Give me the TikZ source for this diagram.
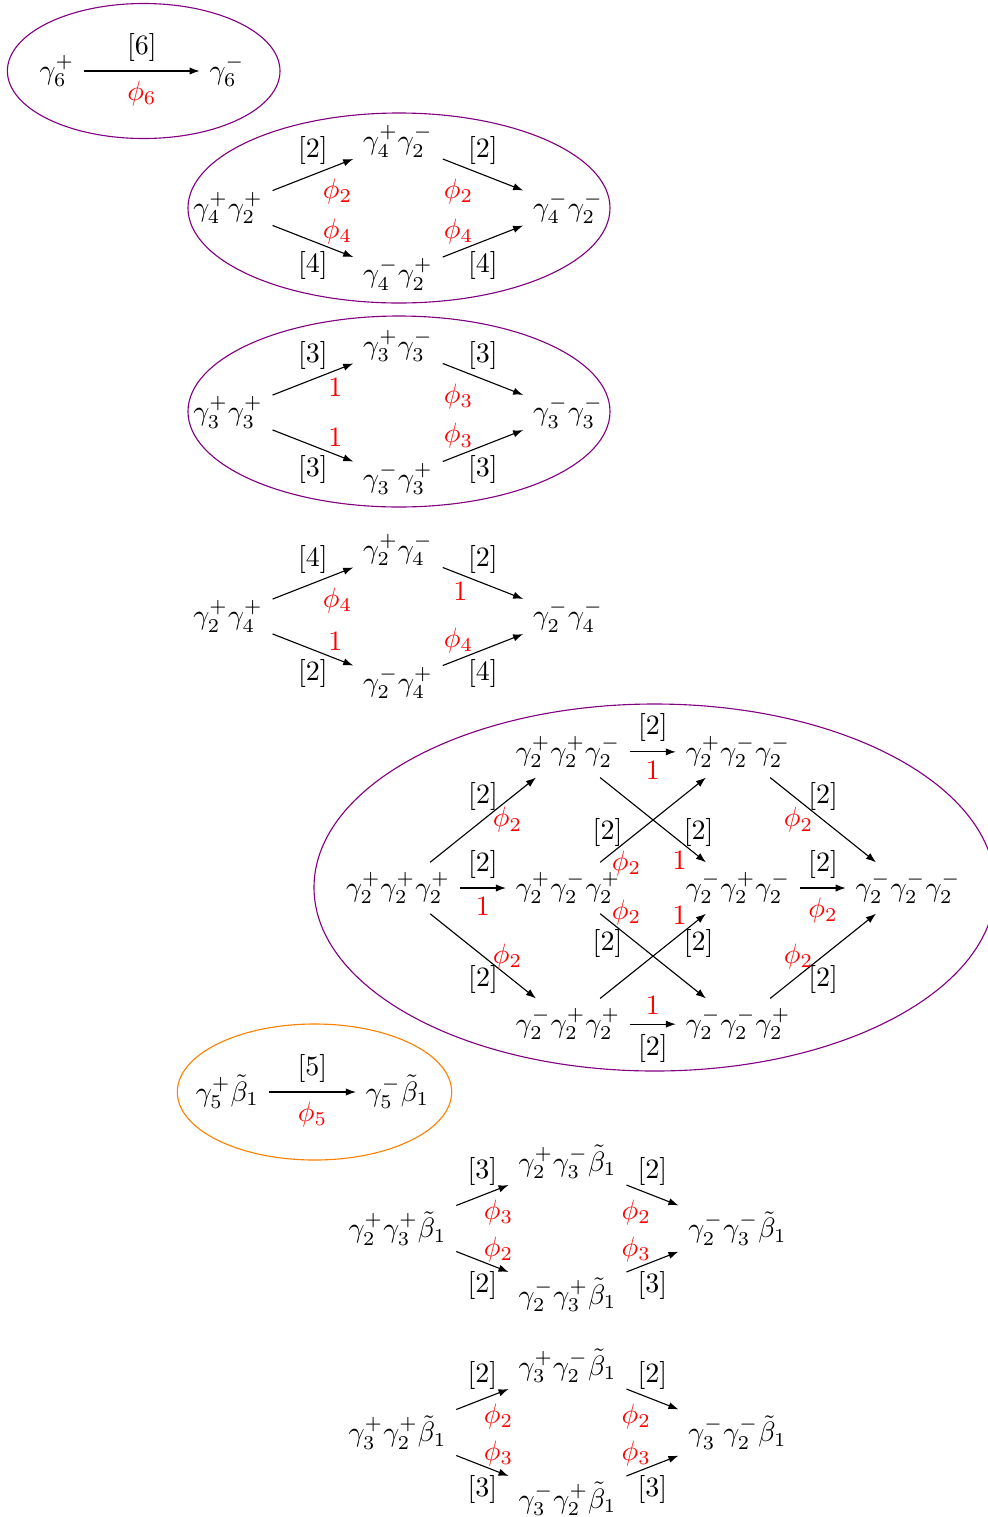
\documentclass[tikz,border=0pt]{standalone}
\usepackage{amsmath, amssymb}
\usetikzlibrary{arrows.meta, positioning}
\definecolor{lila}{HTML}{800080}
\definecolor{naranja}{HTML}{FF8000}

\begin{document}
\begin{tikzpicture}[x=0.357pt, y=-0.357pt,
      node distance=23.75pt and 60.7pt, on grid,
      arrow/.style={-{Latex[length=3.6pt, width=2.6pt]}},
      rd/.style={text=red},
      grupo/.style={draw=lila} ]
    \useasboundingbox (0,0) rectangle (987,1517);

    % gamma_6
    \node (g6p) at (57,71) {$\gamma_6^+$};
    \node[right=of g6p] (g6m) {$\gamma_6^-$};
    \draw[arrow] (g6p) -- node[above] {[6]} node[below, rd] {$\phi_6$} (g6m);
    \draw[grupo] (143.7,71) ellipse [x radius=136.3, y radius=67.5];

    % gamma_4 gamma_2
    \node (pp42) at (228,208) {$\gamma_4^+\gamma_2^+$};
    \node[above right=of pp42] (pm42) {$\gamma_4^+\gamma_2^-$};
    \node[below right=of pp42] (mp42) {$\gamma_4^-\gamma_2^+$};
    \node[below right=of pm42] (mm42) {$\gamma_4^-\gamma_2^-$};
    \draw[arrow] (pp42) -- node[above] {[2]} node[right, rd, yshift=-6pt] {$\phi_2$} (pm42);
    \draw[arrow] (pm42) -- node[above] {[2]} node[left, rd, yshift=-6pt] {$\phi_2$} (mm42);
    \draw[arrow] (pp42) -- node[right, rd, yshift=3.5pt] {$\phi_4$} node[below] {[4]} (mp42);
    \draw[arrow] (mp42) -- node[left, rd, yshift=3.5pt] {$\phi_4$} node[below] {[4]} (mm42);
    \draw[grupo] (399,208) ellipse [x radius=211, y radius=95];

    % gamma_3 gamma_3
    \node (pp33) at (228,412.5) {$\gamma_3^+\gamma_3^+$};
    \node[above right=of pp33] (pm33) {$\gamma_3^+\gamma_3^-$};
    \node[below right=of pp33] (mp33) {$\gamma_3^-\gamma_3^+$};
    \node[below right=of pm33] (mm33) {$\gamma_3^-\gamma_3^-$};
    \draw[arrow] (pp33) -- node[above] {[3]} node[right=2pt, rd, yshift=-3pt] {$1$} (pm33);
    \draw[arrow] (pm33) -- node[above] {[3]} node[left, rd, yshift=-6pt] {$\phi_3$} (mm33);
    \draw[arrow] (pp33) -- node[right=2pt, rd, yshift=3pt] {$1$} node[below] {[3]} (mp33);
    \draw[arrow] (mp33) -- node[left, rd, yshift=3.5pt] {$\phi_3$} node[below] {[3]} (mm33);
    \draw[grupo] (399,411.5) ellipse [x radius=211, y radius=95.5];

    % gamma_2 gamma_4
    \node (pp24) at (228,616.5) {$\gamma_2^+\gamma_4^+$};
    \node[above right=of pp24] (pm24) {$\gamma_2^+\gamma_4^-$};
    \node[below right=of pp24] (mp24) {$\gamma_2^-\gamma_4^+$};
    \node[below right=of pm24] (mm24) {$\gamma_2^-\gamma_4^-$};
    \draw[arrow] (pp24) -- node[above] {[4]} node[right, rd, yshift=-6pt] {$\phi_4$} (pm24);
    \draw[arrow] (pm24) -- node[above] {[2]} node[left=2pt, rd, yshift=-3pt] {$1$} (mm24);
    \draw[arrow] (pp24) -- node[right=2pt, rd, yshift=3pt] {$1$} node[below] {[2]} (mp24);
    \draw[arrow] (mp24) -- node[left, rd, yshift=3.5pt] {$\phi_4$} node[below] {[4]} (mm24);

    % gamma_2 gamma_2 gamma_2
    \node (ppp) at (398,888) {$\gamma_2^+\gamma_2^+\gamma_2^+$};
    \node[above right=48.6pt and 60.7pt of ppp] (ppm) {$\gamma_2^+\gamma_2^+\gamma_2^-$};
    \node[right=of ppp] (pmp) {$\gamma_2^+\gamma_2^-\gamma_2^+$};
    \node[below right=48.6pt and 60.7pt of ppp] (mpp) {$\gamma_2^-\gamma_2^+\gamma_2^+$};
    \node[right=of ppm] (pmm) {$\gamma_2^+\gamma_2^-\gamma_2^-$};
    \node[right=of pmp] (mpm) {$\gamma_2^-\gamma_2^+\gamma_2^-$};
    \node[right=of mpp] (mmp) {$\gamma_2^-\gamma_2^-\gamma_2^+$};
    \node[right=of mpm] (mmm) {$\gamma_2^-\gamma_2^-\gamma_2^-$};
    \draw[arrow] (ppp) -- node[above] {[2]} node[right, rd] {$\phi_2$} (ppm);
    \draw[arrow] (ppp) -- node[above] {[2]} node[below, rd] {$1$} (pmp);
    \draw[arrow] (ppp) -- node[right, rd] {$\phi_2$} node[below] {[2]} (mpp);
    \draw[arrow] (ppm) -- node[above] {[2]} node[below, rd] {$1$} (pmm);
    \draw[arrow] (ppm) -- node[pos=.75, right, xshift=-2pt, yshift=3pt] {[2]} node[pos=.75, below, rd] {$1$} (mpm);
    \draw[arrow] (pmp) -- node[pos=.25, left, xshift=2pt, yshift=3pt] {[2]} node[pos=.25, below, rd] {$\phi_2$} (pmm);
    \draw[arrow] (pmp) -- node[pos=.25, above, rd] {$\phi_2$} node[pos=.25, left, xshift=2pt, yshift=-3pt] {[2]} (mmp);
    \draw[arrow] (mpp) -- node[pos=.75, above, rd] {$1$} node[pos=.75, right, xshift=-2pt, yshift=-3pt] {[2]} (mpm);
    \draw[arrow] (mpp) -- node[above, rd] {$1$} node[below] {[2]} (mmp);
    \draw[arrow] (pmm) -- node[above] {[2]} node[left, rd] {$\phi_2$} (mmm);
    \draw[arrow] (mpm) -- node[above] {[2]} node[below, rd] {$\phi_2$} (mmm);
    \draw[arrow] (mmp) -- node[left, rd] {$\phi_2$} node[below] {[2]} (mmm);
    \draw[grupo] (654.7,887.5) ellipse [x radius=340.7, y radius=183.5];

    % gamma_5 beta_1
    \node (p5b) at (227.5,1092) {$\gamma_5^+\tilde{\beta}_1$};
    \node[right=of p5b] (m5b) {$\gamma_5^-\tilde{\beta}_1$};
    \draw[arrow] (p5b) -- node[above] {[5]} node[below, rd] {$\phi_5$} (m5b);
    \draw[draw=naranja] (314.5,1092) ellipse [x radius=137.2, y radius=68];

    % gamma_2 gamma_3 beta_1
    \node (pp23) at (397.5,1228.5) {$\gamma_2^+\gamma_3^+\tilde{\beta}_1$};
    \node[above right=of pp23] (pm23) {$\gamma_2^+\gamma_3^-\tilde{\beta}_1$};
    \node[below right=of pp23] (mp23) {$\gamma_2^-\gamma_3^+\tilde{\beta}_1$};
    \node[below right=of pm23] (mm23) {$\gamma_2^-\gamma_3^-\tilde{\beta}_1$};
    \draw[arrow] (pp23) -- node[above] {[3]} node[right=-3pt, rd, yshift=-6pt] {$\phi_3$} (pm23);
    \draw[arrow] (pm23) -- node[above] {[2]} node[left=-3pt, rd, yshift=-6pt] {$\phi_2$} (mm23);
    \draw[arrow] (pp23) -- node[right=-3pt, rd, yshift=4.5pt] {$\phi_2$} node[below] {[2]} (mp23);
    \draw[arrow] (mp23) -- node[left=-3pt, rd, yshift=4.5pt] {$\phi_3$} node[below] {[3]} (mm23);

    % gamma_3 gamma_2 beta_1
    \node (pp32) at (397.5,1432.5) {$\gamma_3^+\gamma_2^+\tilde{\beta}_1$};
    \node[above right=of pp32] (pm32) {$\gamma_3^+\gamma_2^-\tilde{\beta}_1$};
    \node[below right=of pp32] (mp32) {$\gamma_3^-\gamma_2^+\tilde{\beta}_1$};
    \node[below right=of pm32] (mm32) {$\gamma_3^-\gamma_2^-\tilde{\beta}_1$};
    \draw[arrow] (pp32) -- node[above] {[2]} node[right=-3pt, rd, yshift=-6pt] {$\phi_2$} (pm32);
    \draw[arrow] (pm32) -- node[above] {[2]} node[left=-3pt, rd, yshift=-6pt] {$\phi_2$} (mm32);
    \draw[arrow] (pp32) -- node[right=-3pt, rd, yshift=4.5pt] {$\phi_3$} node[below] {[3]} (mp32);
    \draw[arrow] (mp32) -- node[left=-3pt, rd, yshift=4.5pt] {$\phi_3$} node[below] {[3]} (mm32);
  \end{tikzpicture}
\end{document}
